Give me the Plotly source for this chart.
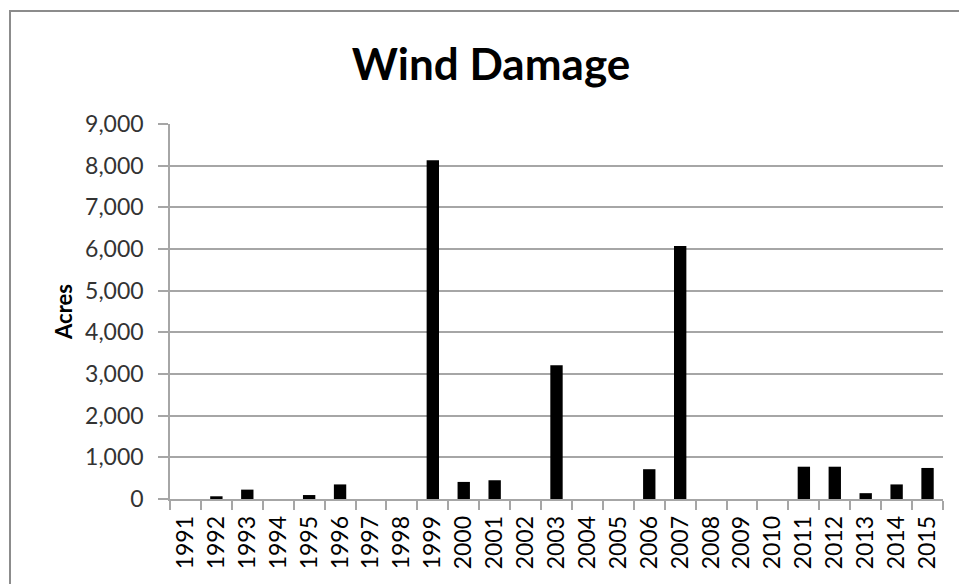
import plotly.graph_objects as go

# Acres of wind damage per year
years = [str(y) for y in range(1991, 2016)]
acres = [0, 65, 225, 0, 95, 350, 0, 0, 8130, 410, 450, 0, 3210, 0, 0,
         715, 6070, 0, 0, 0, 775, 775, 140, 350, 745]
y_ticks = list(range(0, 9001, 1000))

FONT = "Lato"
GRID = "#a6a6a6"

fig = go.Figure(
    go.Bar(
        x=years,
        y=acres,
        marker=dict(color="#000000", line=dict(width=0)),
        width=0.4,
    )
)

fig.update_layout(
    width=959,
    height=584,
    margin=dict(l=170, r=16, t=124, b=85),
    paper_bgcolor="white",
    plot_bgcolor="white",
    showlegend=False,
    font=dict(family=FONT, color="#333333", size=23),
    title=dict(
        text="<b>Wind Damage</b>",
        font=dict(family=FONT, size=44, color="#000000"),
        x=0.512,
        xref="container",
        xanchor="center",
        y=1 - 65 / 584,
        yref="container",
        yanchor="middle",
    ),
    xaxis=dict(
        type="category",
        tickangle=-90,
        showgrid=False,
        showline=True,
        linecolor=GRID,
        linewidth=1.5,
        ticks="outside",
        tickson="boundaries",
        ticklen=9,
        tickcolor=GRID,
        tickwidth=1.5,
        ticklabelstandoff=6,
        tickfont=dict(family=FONT, size=23, color="#000000"),
    ),
    yaxis=dict(
        range=[0, 9000],
        tickvals=y_ticks,
        tickformat=",d",
        showgrid=True,
        gridcolor=GRID,
        gridwidth=1.5,
        zeroline=False,
        showline=True,
        linecolor=GRID,
        linewidth=1.5,
        ticks="outside",
        ticklen=10,
        tickcolor=GRID,
        tickwidth=1.5,
        ticklabelstandoff=10,
        tickfont=dict(family=FONT, size=23, color="#333333"),
        title=dict(
            text="<b>Acres</b>",
            font=dict(family=FONT, size=22, color="#000000"),
            standoff=6,
        ),
    ),
    shapes=[
        dict(
            type="rect",
            xref="paper",
            yref="paper",
            x0=(10 - 170) / 773,
            x1=1.2,
            y0=-0.5,
            y1=(584 - 11 - 85) / 375,
            line=dict(color="#8c8c8c", width=2),
            fillcolor="rgba(0,0,0,0)",
            layer="below",
        )
    ],
)

fig.write_html("out.html")
